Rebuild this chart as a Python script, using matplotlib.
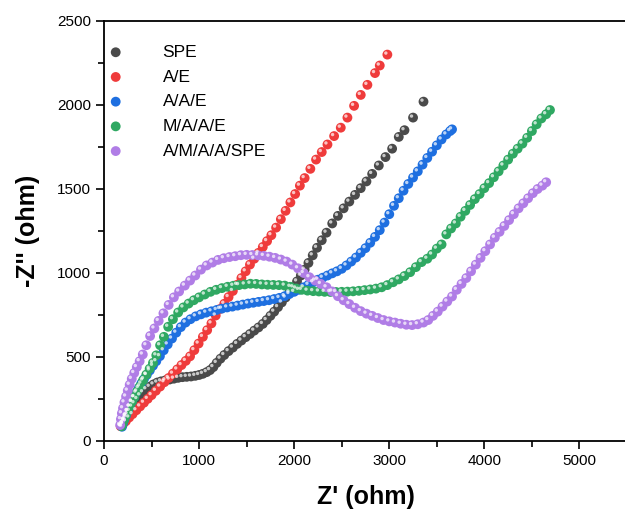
import matplotlib
matplotlib.use("Agg")
import matplotlib.pyplot as plt
from matplotlib.transforms import offset_copy
from matplotlib.ticker import MultipleLocator

plt.rcParams['font.family'] = ['Liberation Sans', 'DejaVu Sans']

# Nyquist data, (Z', -Z'') in ohm
spe = [(180, 90), (195, 105), (210, 120), (228, 140), (248, 160), (270, 180), (295, 205),
       (320, 225), (350, 250), (380, 272), (410, 290), (445, 308), (480, 323), (520, 337),
       (560, 348), (600, 355), (645, 361), (690, 366), (735, 371), (780, 376), (825, 380),
       (870, 382), (915, 384), (960, 388), (1000, 393), (1040, 400), (1080, 410), (1115, 422),
       (1150, 440), (1185, 465), (1225, 490), (1265, 512), (1310, 535), (1355, 556),
       (1400, 578), (1445, 598), (1490, 618), (1535, 637), (1580, 657), (1625, 676),
       (1670, 697), (1710, 720), (1750, 745), (1790, 770), (1830, 797), (1870, 825),
       (1910, 854), (1950, 884), (1990, 915), (2030, 950), (2070, 985), (2110, 1020),
       (2150, 1060), (2195, 1105), (2240, 1150), (2290, 1195), (2340, 1240), (2400, 1295),
       (2460, 1340), (2520, 1385), (2580, 1425), (2640, 1465), (2700, 1505), (2760, 1545),
       (2820, 1590), (2890, 1640), (2960, 1690), (3030, 1740), (3100, 1810), (3160, 1850),
       (3250, 1925), (3360, 2020)]

ae = [(175, 88), (200, 100), (230, 118), (265, 140), (300, 160), (340, 183), (380, 206),
      (420, 228), (460, 251), (500, 273), (545, 299), (590, 324), (635, 350), (680, 375),
      (725, 401), (770, 426), (815, 452), (860, 477), (905, 504), (950, 541), (995, 580),
      (1040, 620), (1085, 660), (1130, 700), (1175, 747), (1220, 786), (1265, 817),
      (1310, 857), (1355, 893), (1400, 930), (1445, 970), (1490, 1010), (1535, 1050),
      (1580, 1085), (1625, 1120), (1670, 1155), (1715, 1190), (1760, 1225), (1810, 1270),
      (1860, 1320), (1910, 1370), (1960, 1420), (2010, 1470), (2060, 1520), (2110, 1565),
      (2170, 1620), (2230, 1675), (2290, 1720), (2350, 1765), (2420, 1815), (2490, 1865),
      (2560, 1925), (2630, 1995), (2700, 2060), (2770, 2120), (2850, 2190), (2900, 2235),
      (2980, 2300)]

aae = [(190, 85), (200, 105), (215, 128), (232, 152), (250, 178), (270, 205), (292, 232),
       (315, 260), (340, 288), (365, 315), (392, 342), (420, 368), (450, 393), (482, 420),
       (515, 448), (550, 475), (588, 505), (628, 540), (670, 575), (715, 610), (760, 645),
       (808, 678), (858, 705), (910, 725), (965, 742), (1020, 754), (1075, 764), (1130, 772),
       (1185, 780), (1240, 788), (1295, 795), (1350, 800), (1405, 806), (1460, 812),
       (1515, 818), (1570, 823), (1625, 828), (1680, 833), (1735, 838), (1790, 845),
       (1845, 852), (1900, 862), (1950, 875), (2000, 888), (2050, 900), (2100, 915),
       (2150, 930), (2200, 945), (2250, 960), (2300, 972), (2350, 985), (2400, 998),
       (2450, 1010), (2500, 1025), (2550, 1045), (2600, 1068), (2650, 1092), (2700, 1120),
       (2750, 1148), (2800, 1180), (2850, 1215), (2900, 1255), (2950, 1300), (3000, 1350),
       (3050, 1400), (3100, 1445), (3150, 1490), (3200, 1530), (3250, 1568), (3300, 1605),
       (3350, 1645), (3400, 1685), (3450, 1722), (3500, 1760), (3550, 1795), (3600, 1825),
       (3640, 1845), (3660, 1855)]

maae = [(185, 88), (195, 105), (210, 125), (228, 150), (248, 178), (270, 205), (295, 235),
        (320, 262), (348, 295), (378, 325), (410, 360), (445, 395), (480, 430), (515, 465),
        (550, 510), (590, 570), (630, 620), (675, 680), (725, 725), (780, 765), (835, 795),
        (890, 818), (945, 838), (1000, 855), (1060, 872), (1120, 888), (1180, 900),
        (1240, 910), (1300, 918), (1360, 924), (1420, 928), (1480, 932), (1540, 936),
        (1600, 935), (1660, 932), (1720, 930), (1780, 929), (1840, 928), (1900, 925),
        (1960, 918), (2020, 908), (2080, 900), (2140, 895), (2200, 892), (2260, 890),
        (2320, 888), (2380, 887), (2440, 887), (2500, 888), (2560, 889), (2620, 891),
        (2680, 894), (2740, 898), (2800, 902), (2860, 907), (2920, 915), (2980, 928),
        (3040, 945), (3100, 962), (3160, 982), (3220, 1005), (3280, 1035), (3340, 1065),
        (3400, 1085), (3450, 1110), (3500, 1145), (3550, 1170), (3600, 1230), (3650, 1265),
        (3700, 1295), (3750, 1335), (3800, 1370), (3850, 1405), (3900, 1440), (3950, 1470),
        (4000, 1505), (4050, 1535), (4100, 1570), (4150, 1605), (4200, 1640), (4250, 1675),
        (4300, 1710), (4350, 1740), (4400, 1770), (4450, 1805), (4500, 1845), (4550, 1885),
        (4600, 1920), (4650, 1945), (4690, 1970)]

amaa = [(170, 95), (178, 130), (188, 165), (200, 195), (215, 230), (232, 265), (250, 300),
        (270, 335), (292, 370), (318, 405), (345, 440), (375, 475), (408, 515), (445, 570),
        (485, 625), (530, 670), (575, 715), (625, 760), (680, 810), (735, 855), (790, 890),
        (850, 925), (905, 955), (960, 985), (1020, 1020), (1080, 1045), (1140, 1062),
        (1200, 1078), (1260, 1088), (1320, 1095), (1380, 1100), (1440, 1106), (1500, 1108),
        (1560, 1107), (1620, 1105), (1680, 1102), (1740, 1097), (1800, 1090), (1860, 1080),
        (1920, 1068), (1980, 1050), (2040, 1028), (2100, 1000), (2160, 975), (2220, 955),
        (2280, 935), (2340, 915), (2400, 890), (2460, 862), (2520, 838), (2580, 815),
        (2640, 793), (2700, 773), (2760, 758), (2820, 745), (2880, 732), (2940, 720),
        (3000, 712), (3060, 705), (3120, 698), (3180, 692), (3240, 690), (3300, 695),
        (3360, 705), (3410, 720), (3460, 745), (3510, 770), (3560, 800), (3610, 830),
        (3660, 860), (3710, 900), (3760, 935), (3810, 970), (3860, 1010), (3910, 1050),
        (3960, 1090), (4010, 1130), (4060, 1170), (4110, 1210), (4160, 1245), (4210, 1280),
        (4260, 1315), (4310, 1350), (4360, 1385), (4410, 1415), (4460, 1445), (4510, 1475),
        (4560, 1500), (4610, 1520), (4650, 1540)]

labels = ['SPE', 'A/E', 'A/A/E', 'M/A/A/E', 'A/M/A/A/SPE']
series = [spe, ae, aae, maae, amaa]
colors = ['#4a4a4a', '#ef3b3b', '#1e6fe0', '#2fa862', '#b07de6']

fig = plt.figure(figsize=(6.25, 5.12), dpi=100)
ax = fig.add_axes([104 / 625, 71 / 512, 523 / 625, 420 / 512])

# small offset so the highlight sits at the upper left of each ball
shine = offset_copy(ax.transData, fig=fig, x=-1.1, y=1.1, units='points')

handles = []
for pts, lab, col in zip(series, labels, colors):
    xs = [p[0] for p in pts]
    ys = [p[1] for p in pts]
    h = ax.scatter(xs, ys, s=50, color=col, edgecolors='none', label=lab, zorder=3)
    ax.scatter(xs, ys, s=6, color='white', alpha=0.7, edgecolors='none',
               transform=shine, zorder=4)
    handles.append(h)

ax.set_xlim(0, 5500)
ax.set_ylim(0, 2500)
ax.xaxis.set_major_locator(MultipleLocator(1000))
ax.xaxis.set_minor_locator(MultipleLocator(500))
ax.yaxis.set_major_locator(MultipleLocator(500))
ax.yaxis.set_minor_locator(MultipleLocator(250))
ax.tick_params(which='major', direction='out', length=6, width=1.2, labelsize=11)
ax.tick_params(which='minor', direction='out', length=4, width=1.2)
for sp in ax.spines.values():
    sp.set_linewidth(1.3)

ax.set_xlabel("Z' (ohm)", fontsize=18, fontweight='bold', labelpad=12)
ax.set_ylabel("-Z'' (ohm)", fontsize=18, fontweight='bold', labelpad=12)

ax.legend(handles=handles, loc='upper left', frameon=False, fontsize=12.5,
          bbox_to_anchor=(-0.044, 0.985), handletextpad=1.7, labelspacing=0.55,
          borderaxespad=0.6, markerscale=1.0)

fig.savefig('out.png', dpi=100)
